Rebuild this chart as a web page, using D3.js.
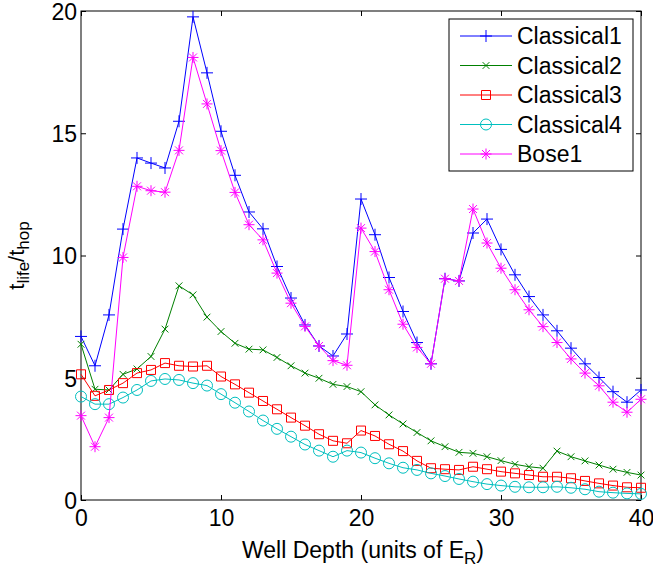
<!DOCTYPE html>
<html>
<head>
<meta charset="utf-8">
<script src="https://cdn.jsdelivr.net/npm/d3@7"></script>
<style>
  html, body { margin: 0; padding: 0; background: #fff; }
  svg { display: block; }
  text { font-family: "Liberation Sans", Arial, Helvetica, sans-serif; fill: #000; }
</style>
</head>
<body>
<svg id="chart" width="653" height="571"></svg>
<script>
const wellDepth = d3.range(0, 41);
const xTicks = [0, 10, 20, 30, 40];
const yTicks = [0, 5, 10, 15, 20];
const seriesNames = ["Classical1", "Classical2", "Classical3", "Classical4", "Bose1"];

const classical1 = [6.69,5.49,7.57,11.08,13.99,13.78,13.58,15.49,19.76,17.47,15.08,13.28,11.78,11.09,9.55,8.26,7.16,6.30,5.89,6.79,12.31,10.85,9.10,7.71,6.44,5.57,9.05,8.96,10.92,11.49,10.25,9.21,8.32,7.57,6.92,6.21,5.57,5.01,4.43,4.00,4.50];
const classical2 = [6.37,4.53,4.50,5.14,5.36,5.87,6.99,8.76,8.39,7.48,6.89,6.41,6.17,6.14,5.83,5.49,5.19,4.98,4.73,4.64,4.43,3.89,3.48,3.11,2.76,2.42,2.18,1.95,1.91,1.77,1.61,1.46,1.36,1.30,2.00,1.77,1.60,1.43,1.26,1.13,1.02];
const classical3 = [5.14,4.26,4.50,4.78,5.19,5.32,5.60,5.49,5.46,5.49,5.05,4.73,4.39,4.05,3.71,3.37,3.04,2.69,2.42,2.32,2.84,2.62,2.28,2.00,1.60,1.30,1.26,1.23,1.36,1.26,1.16,1.09,1.02,0.95,0.95,0.89,0.78,0.68,0.59,0.52,0.50];
const classical4 = [4.23,3.92,3.92,4.19,4.50,4.87,4.95,4.91,4.78,4.68,4.33,3.98,3.62,3.25,2.91,2.59,2.27,2.02,1.77,2.02,1.94,1.71,1.50,1.32,1.23,1.09,0.98,0.86,0.75,0.65,0.59,0.54,0.52,0.52,0.54,0.50,0.44,0.34,0.30,0.27,0.25];
const bose1 = [3.45,2.18,3.37,9.92,12.83,12.65,12.59,14.30,18.10,16.20,14.29,12.58,11.26,10.64,9.28,8.05,7.10,6.30,5.70,5.51,11.12,10.16,8.60,7.19,6.24,5.57,9.05,8.96,11.90,10.51,9.48,8.60,7.78,7.09,6.44,5.77,5.19,4.67,4.00,3.59,4.12];

const seriesValues = [classical1, classical2, classical3, classical4, bose1];
const colors = ["#0000ff", "#008000", "#ff0000", "#00bfbf", "#ff00ff"];
const markers = ["plus", "cross", "square", "circle", "star"];

const margin = { left: 81, right: 12, top: 11, bottom: 71 };
const W = 653, H = 571;
const svg = d3.select("#chart");

const x = d3.scaleLinear().domain([0, 40]).range([margin.left, W - margin.right]);
const y = d3.scaleLinear().domain([0, 20]).range([H - margin.bottom, margin.top]);

function markerPath(type, s) {
  const h = s / 2;
  switch (type) {
    case "plus": return `M${-h},0H${h}M0,${-h}V${h}`;
    case "cross": { const c = h * 0.75; return `M${-c},${-c}L${c},${c}M${-c},${c}L${c},${-c}`; }
    case "square": { const q = h * 0.9; return `M${-q},${-q}H${q}V${q}H${-q}Z`; }
    case "circle": { const r = h; return `M${r},0A${r},${r} 0 1,1 ${-r},0A${r},${r} 0 1,1 ${r},0Z`; }
    case "star": {
      const c = h * 0.72;
      return `M${-h},0H${h}M0,${-h}V${h}M${-c},${-c}L${c},${c}M${-c},${c}L${c},${-c}`;
    }
  }
}
const markerSize = { plus: 12, cross: 9, square: 10, circle: 11, star: 11 };

// Axes box
const g = svg.append("g");
g.append("rect")
  .attr("x", x(0)).attr("y", y(20))
  .attr("width", x(40) - x(0)).attr("height", y(0) - y(20))
  .attr("fill", "none").attr("stroke", "#000").attr("stroke-width", 1);

// Axes with inward ticks
const tickLen = 5;
const xAxisB = d3.axisBottom(x).tickValues(xTicks).tickSizeInner(-tickLen).tickSizeOuter(0).tickPadding(10);
const xAxisT = d3.axisTop(x).tickValues(xTicks).tickSizeInner(-tickLen).tickSizeOuter(0).tickFormat("");
const yAxisL = d3.axisLeft(y).tickValues(yTicks).tickSizeInner(-tickLen).tickSizeOuter(0).tickPadding(10);
const yAxisR = d3.axisRight(y).tickValues(yTicks).tickSizeInner(-tickLen).tickSizeOuter(0).tickFormat("");

function styleAxis(sel) {
  sel.select(".domain").remove();
  sel.selectAll(".tick line").attr("stroke", "#000").attr("stroke-width", 1);
  sel.selectAll(".tick text")
    .style("font-family", '"Liberation Sans", Arial, sans-serif')
    .style("font-size", "23px").attr("fill", "#000");
}
g.append("g").attr("transform", `translate(0,${y(0)})`).call(xAxisB).call(styleAxis)
  .selectAll(".tick text").attr("dy", "0.71em").attr("y", 10);
g.append("g").attr("transform", `translate(0,${y(20)})`).call(xAxisT).call(styleAxis);
g.append("g").attr("transform", `translate(${x(0)},0)`).call(yAxisL).call(styleAxis)
  .selectAll(".tick text").attr("x", -4).attr("dy", "0.36em");
g.append("g").attr("transform", `translate(${x(40)},0)`).call(yAxisR).call(styleAxis);

// Series
const line = d3.line().x((d, i) => x(wellDepth[i])).y(d => y(d));
seriesValues.forEach((vals, k) => {
  const sg = svg.append("g");
  sg.append("path").datum(vals)
    .attr("d", line).attr("fill", "none")
    .attr("stroke", colors[k]).attr("stroke-width", 1);
  sg.selectAll("path.m").data(vals).enter().append("path")
    .attr("class", "m")
    .attr("transform", (d, i) => `translate(${x(wellDepth[i])},${y(d)})`)
    .attr("d", markerPath(markers[k], markerSize[markers[k]]))
    .attr("fill", "none").attr("stroke", colors[k]).attr("stroke-width", 1);
});

// Legend
const lg = svg.append("g");
const lx = 449, ly = 19, lw = 184, lh = 152;
lg.append("rect").attr("x", lx).attr("y", ly).attr("width", lw).attr("height", lh)
  .attr("fill", "#fff").attr("stroke", "#000").attr("stroke-width", 1);
seriesNames.forEach((name, k) => {
  const yy = 36 + k * 29.5;
  lg.append("line").attr("x1", 460).attr("x2", 512).attr("y1", yy).attr("y2", yy)
    .attr("stroke", colors[k]).attr("stroke-width", 1);
  lg.append("path").attr("transform", `translate(486,${yy})`)
    .attr("d", markerPath(markers[k], markerSize[markers[k]]))
    .attr("fill", "none").attr("stroke", colors[k]).attr("stroke-width", 1);
  lg.append("text").attr("x", 517).attr("y", yy).attr("dy", "0.36em")
    .style("font-size", "23px").text(name);
});

// X label
const xl = svg.append("text")
  .attr("x", (x(0) + x(40)) / 2 + 2).attr("y", 558)
  .attr("text-anchor", "middle").style("font-size", "23px");
xl.append("tspan").text("Well Depth (units of E");
xl.append("tspan").attr("dy", 6).style("font-size", "17px").text("R");
xl.append("tspan").attr("dy", -6).text(")");

// Y label
const yl = svg.append("text")
  .attr("transform", `translate(24,${(y(0) + y(20)) / 2}) rotate(-90)`)
  .attr("text-anchor", "middle").style("font-size", "22px");
yl.append("tspan").text("t");
yl.append("tspan").attr("dy", 5).style("font-size", "17px").text("life");
yl.append("tspan").attr("dy", -5).text("/t");
yl.append("tspan").attr("dy", 5).style("font-size", "17px").text("hop");
</script>
</body>
</html>
